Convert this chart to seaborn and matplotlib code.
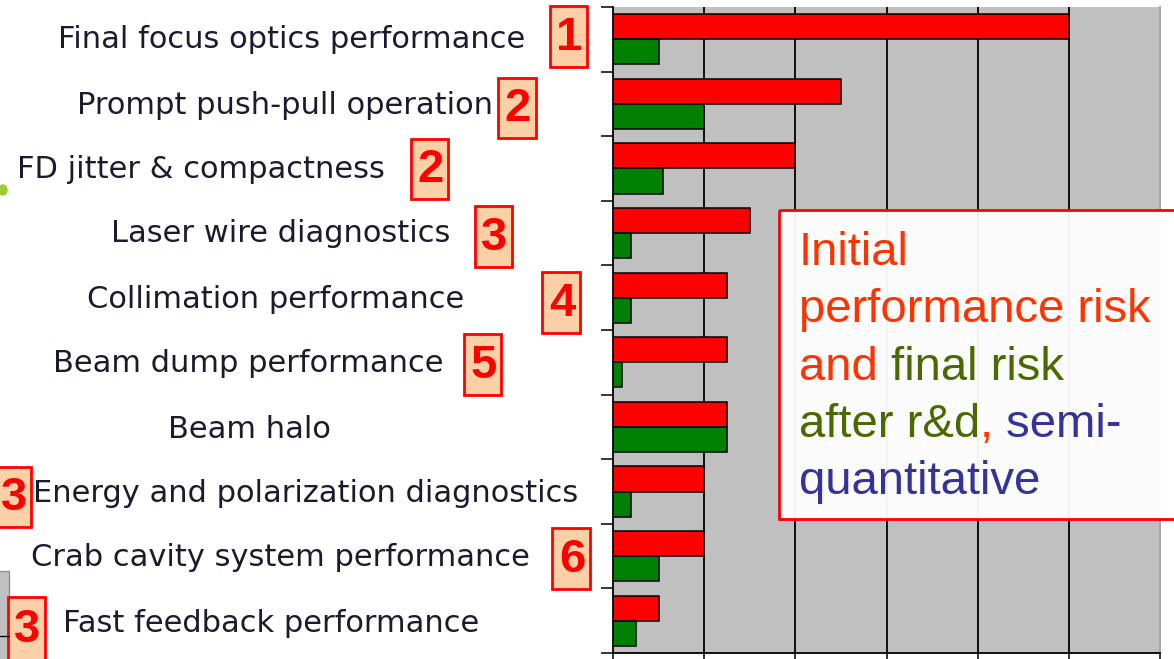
import numpy as np
import pandas as pd
import matplotlib
matplotlib.use("Agg")
import matplotlib.pyplot as plt
from matplotlib.patches import Rectangle, Ellipse
import seaborn as sns

# chart data
categories = [
    "Final focus optics performance",
    "Prompt push-pull operation",
    "FD jitter & compactness",
    "Laser wire diagnostics",
    "Collimation performance",
    "Beam dump performance",
    "Beam halo",
    "Energy and polarization diagnostics",
    "Crab cavity system performance",
    "Fast feedback performance",
]
initial_risk = [5.0, 2.5, 2.0, 1.5, 1.25, 1.25, 1.25, 1.0, 1.0, 0.5]
final_risk = [0.5, 1.0, 0.55, 0.2, 0.2, 0.1, 1.25, 0.2, 0.5, 0.25]
ranks = ["1", "2", "2", "3", "4", "5", "", "3", "6", "3"]
stages = ["Initial risk", "Final risk"]

note_lines = [
    [("Initial", "red")],
    [("performance risk", "red")],
    [("and", "red"), (" final risk", "green")],
    [("after r&d", "green"), (",", "red"), (" semi-", "blue")],
    [("quantitative", "blue")],
]

# layout (pixels from top-left of the 1174x659 canvas)
W, H = 1174, 659
label_pos = [(292, 40), (285, 105), (201, 170), (281, 233), (276, 299),
             (248, 363), (249, 429), (306, 494), (280, 557), (271, 623)]
badge_box = [(550, 6, 587, 67), (498, 78, 536, 138), (411, 139, 448, 199),
             (475, 206, 512, 267), (542, 272, 580, 333), (464, 334, 501, 395),
             None, (-4, 467, 31, 527), (552, 528, 590, 589), (8, 597, 45, 662)]
text_colors = {"red": "#FF3300", "green": "#4A6A00", "blue": "#333399"}

df = pd.DataFrame({
    "item": categories * 2,
    "risk": initial_risk + final_risk,
    "stage": [stages[0]] * len(categories) + [stages[1]] * len(categories),
})

sns.set_theme(style="white")
plt.rcParams["font.family"] = ["Liberation Sans", "DejaVu Sans"]

fig = plt.figure(figsize=(W / 100, H / 100), dpi=100)
fig.patch.set_facecolor("white")

left, right, top, bottom = 613, 1160, 7, 653
ax = fig.add_axes([left / W, 1 - bottom / H, (right - left) / W, (bottom - top) / H])
ax.set_facecolor("#C0C0C0")

sns.barplot(data=df, y="item", x="risk", hue="stage", orient="h",
            palette=["#FF0000", "#008000"], saturation=1, width=0.78,
            edgecolor="black", linewidth=1.1, legend=False, ax=ax, zorder=3)

ax.set_xlim(0, 6)
ax.set_ylim(len(categories) - 0.5, -0.5)
ax.vlines(range(1, 6), -0.5, len(categories) - 0.5, color="black", lw=1.3, zorder=1)
ax.set_xticks(range(0, 7))
ax.set_xticklabels([])
ax.set_yticks(np.arange(-0.5, len(categories), 1))
ax.set_yticklabels([])
ax.set_xlabel("")
ax.set_ylabel("")
ax.tick_params(axis="both", direction="out", length=8.5, width=1.1, color="black",
               left=True, bottom=True)
for side in ["left", "bottom"]:
    ax.spines[side].set_color("black")
    ax.spines[side].set_linewidth(1.3)
ax.spines["top"].set_visible(False)
ax.spines["right"].set_color("#A8A8A8")
ax.spines["right"].set_linewidth(1.5)

# overlay in pixel coordinates for labels, badges and the note
ov = fig.add_axes([0, 0, 1, 1], zorder=10)
ov.set_xlim(0, W)
ov.set_ylim(H, 0)
ov.axis("off")

# small leftovers of the slide
ov.add_patch(Ellipse((3, 190), 8, 10, color="#9ACD32"))
ov.add_patch(Rectangle((-2, 571), 11, 95, facecolor="#C0C0C0", edgecolor="#909090", lw=1))
ov.plot([0, 9], [636, 636], color="black", lw=1)

for name, (x, y) in zip(categories, label_pos):
    ov.text(x, y, name, ha="center", va="center", fontsize=22,
            family=["DejaVu Sans"], color="#1C1A2E")

for rank, box in zip(ranks, badge_box):
    if not rank:
        continue
    x0, y0, x1, y1 = box
    ov.add_patch(Rectangle((x0, y0), x1 - x0, y1 - y0, facecolor="#FCD0A6",
                           edgecolor="#FF0000", lw=2))
    ov.text((x0 + x1) / 2 + 1, (y0 + y1) / 2 + 1, rank, ha="center", va="center",
            fontsize=34, fontweight="bold", color="#FF0000")

# note box
ov.add_patch(Rectangle((779, 210), 420, 309, facecolor="white", alpha=0.95,
                       edgecolor="none"))
ov.add_patch(Rectangle((779, 210), 420, 309, facecolor="none",
                       edgecolor="#FF0000", lw=2))
baselines = [265, 322, 380, 437, 494]
for line, yb in zip(note_lines, baselines):
    prev = None
    for s, c in line:
        if prev is None:
            prev = ov.text(799, yb, s, va="baseline", ha="left", fontsize=34,
                           color=text_colors[c])
        else:
            prev = ov.annotate(s, xy=(1, 0), xycoords=prev, va="bottom", ha="left",
                               fontsize=34, color=text_colors[c])

fig.savefig("out.png", dpi=100)
